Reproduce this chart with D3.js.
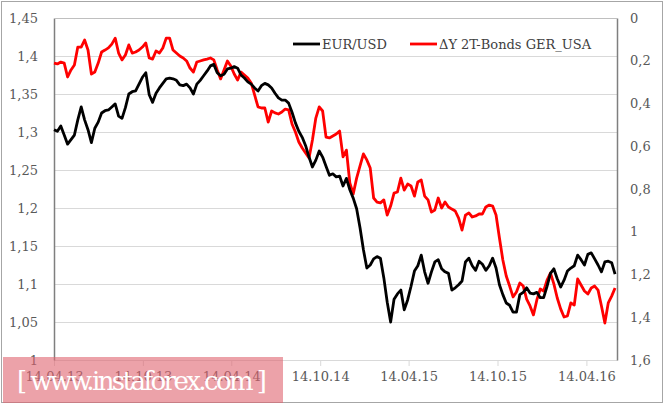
<!DOCTYPE html>
<html>
<head>
<meta charset="utf-8">
<title>EUR/USD vs 2Y bond spread</title>
<script src="https://cdn.jsdelivr.net/npm/d3@7"></script>
<style>
	body{ margin:0; background:#fff; }
	svg text{ font-family: "DejaVu Serif", serif; }
	.axis text{ fill:#595959; font-size:13px; }
	.grid line{ stroke:#d9d9d9; shape-rendering:crispEdges; }
</style>
</head>
<body>
<script>
// weekly observations, first week 14.04.13
const startDate = "2013-04-14";

const eurusd = [
	1.303,1.301,1.308,1.296,1.284,1.290,1.296,1.316,1.333,1.316,
	1.303,1.286,1.305,1.313,1.325,1.328,1.329,1.333,1.337,1.321,
	1.318,1.332,1.350,1.353,1.354,1.363,1.372,1.378,1.349,1.339,
	1.351,1.358,1.364,1.370,1.371,1.370,1.368,1.362,1.361,1.363,
	1.358,1.350,1.363,1.368,1.374,1.380,1.387,1.389,1.378,1.374,
	1.376,1.383,1.384,1.386,1.384,1.375,1.371,1.366,1.363,1.358,
	1.354,1.361,1.364,1.362,1.358,1.351,1.345,1.342,1.342,1.338,
	1.326,1.312,1.301,1.293,1.282,1.267,1.254,1.263,1.275,1.267,
	1.255,1.243,1.245,1.241,1.242,1.229,1.239,1.224,1.213,1.199,
	1.174,1.145,1.121,1.125,1.133,1.136,1.134,1.108,1.076,1.050,
	1.080,1.087,1.092,1.066,1.079,1.097,1.117,1.124,1.138,1.116,
	1.101,1.116,1.129,1.132,1.120,1.116,1.114,1.092,1.095,1.099,
	1.104,1.129,1.134,1.124,1.118,1.130,1.126,1.118,1.124,1.134,
	1.121,1.099,1.086,1.075,1.072,1.063,1.063,1.086,1.089,1.095,
	1.088,1.087,1.089,1.082,1.082,1.097,1.114,1.120,1.107,1.096,
	1.105,1.117,1.121,1.124,1.138,1.132,1.125,1.139,1.141,1.133,
	1.125,1.116,1.129,1.130,1.128,1.113
];

const spread = [
	0.211,0.215,0.206,0.211,0.276,0.243,0.220,0.136,0.136,0.103,
	0.150,0.262,0.253,0.211,0.159,0.150,0.140,0.122,0.094,0.164,
	0.196,0.173,0.126,0.164,0.159,0.150,0.136,0.117,0.187,0.192,
	0.154,0.164,0.140,0.094,0.094,0.150,0.164,0.178,0.187,0.201,
	0.234,0.253,0.206,0.201,0.196,0.192,0.187,0.196,0.243,0.285,
	0.243,0.201,0.225,0.262,0.290,0.253,0.267,0.281,0.304,0.360,
	0.416,0.421,0.421,0.487,0.435,0.444,0.449,0.440,0.426,0.430,
	0.496,0.533,0.580,0.608,0.632,0.655,0.571,0.468,0.416,0.435,
	0.557,0.561,0.552,0.543,0.529,0.650,0.618,0.772,0.823,0.749,
	0.692,0.636,0.664,0.702,0.842,0.861,0.865,0.851,0.922,0.880,
	0.819,0.814,0.749,0.805,0.777,0.786,0.833,0.767,0.758,0.833,
	0.851,0.908,0.898,0.842,0.889,0.861,0.884,0.894,0.903,0.936,
	0.992,0.922,0.912,0.931,0.926,0.917,0.917,0.884,0.875,0.880,
	0.922,1.029,1.132,1.207,1.254,1.305,1.282,1.240,1.254,1.315,
	1.347,1.389,1.319,1.268,1.277,1.226,1.193,1.244,1.310,1.361,
	1.399,1.394,1.333,1.343,1.221,1.249,1.277,1.291,1.263,1.254,
	1.273,1.347,1.427,1.333,1.301,1.263
];

const leftTicks = [1, 1.05, 1.1, 1.15, 1.2, 1.25, 1.3, 1.35, 1.4, 1.45];
const rightTicks = [0, 0.2, 0.4, 0.6, 0.8, 1, 1.2, 1.4, 1.6];
const dateTicks = ["2013-04-14","2013-10-14","2014-04-14","2014-10-14","2015-04-14","2015-10-14","2016-04-14"];
const axisEnd = "2016-06-16";

const width = 665, height = 406;
const margin = {top: 18, right: 48, bottom: 46, left: 54};

const parseDate = d3.timeParse("%Y-%m-%d");
const fmtDate = d3.timeFormat("%d.%m.%y");
const fmtNum = function(d){ return d3.format("~g")(d).replace(".", ","); };

const t0 = parseDate(startDate);
const dates = d3.range(eurusd.length).map(function(i){ return d3.timeDay.offset(t0, i * 7); });

const xScale = d3.scaleTime()
	.domain([t0, parseDate(axisEnd)])
	.range([margin.left, width - margin.right]);

const yLeft = d3.scaleLinear()
	.domain([1, 1.45])
	.range([height - margin.bottom, margin.top]);

const yRight = d3.scaleLinear()
	.domain([0, 1.6])
	.range([margin.top, height - margin.bottom]);

const svg = d3.select("body")
	.append("svg")
	.attr("width", width)
	.attr("height", height);

// outer frame
svg.append("rect")
	.attr("x", 1.5).attr("y", 1.5)
	.attr("width", width - 4).attr("height", height - 5)
	.attr("fill", "none")
	.attr("stroke", "#a6a6a6");

// gridlines
svg.append("g")
	.attr("class", "grid")
	.selectAll("line")
	.data(leftTicks)
	.enter()
	.append("line")
	.attr("x1", margin.left)
	.attr("x2", width - margin.right)
	.attr("y1", function(d){ return Math.round(yLeft(d)) + 0.5; })
	.attr("y2", function(d){ return Math.round(yLeft(d)) + 0.5; });

// axes
const xAxis = d3.axisBottom(xScale)
	.tickValues(dateTicks.map(parseDate))
	.tickFormat(fmtDate)
	.tickSizeInner(6)
	.tickSizeOuter(0)
	.tickPadding(6);

const gx = svg.append("g")
	.attr("class", "axis")
	.attr("transform", "translate(0," + (height - margin.bottom) + ")")
	.call(xAxis);
gx.select(".domain").attr("stroke", "#d9d9d9");
gx.selectAll(".tick line").attr("stroke", "#d9d9d9");

const gl = svg.append("g")
	.attr("class", "axis")
	.attr("transform", "translate(" + margin.left + ",0)")
	.call(d3.axisLeft(yLeft).tickValues(leftTicks).tickFormat(fmtNum).tickSize(0).tickPadding(16));
gl.select(".domain").attr("stroke", "#7f7f7f").attr("stroke-width", 1.5);

const gr = svg.append("g")
	.attr("class", "axis")
	.attr("transform", "translate(" + (width - margin.right) + ",0)")
	.call(d3.axisRight(yRight).tickValues(rightTicks).tickFormat(fmtNum).tickSize(0).tickPadding(13));
gr.select(".domain").attr("stroke", "#7f7f7f").attr("stroke-width", 1.5);

// top border of plot area
svg.append("line")
	.attr("x1", margin.left).attr("x2", width - margin.right)
	.attr("y1", margin.top + 0.5).attr("y2", margin.top + 0.5)
	.attr("stroke", "#bfbfbf");

// series
const eurLine = d3.line()
	.x(function(d, i){ return xScale(dates[i]); })
	.y(function(d){ return yLeft(d); });

const spreadLine = d3.line()
	.x(function(d, i){ return xScale(dates[i]); })
	.y(function(d){ return yRight(d); });

svg.append("path")
	.datum(spread)
	.attr("d", spreadLine)
	.attr("fill", "none")
	.attr("stroke", "#ff0000")
	.attr("stroke-width", 2.8)
	.attr("stroke-linejoin", "round");

svg.append("path")
	.datum(eurusd)
	.attr("d", eurLine)
	.attr("fill", "none")
	.attr("stroke", "#000")
	.attr("stroke-width", 2.8)
	.attr("stroke-linejoin", "round");

// legend
const legend = [
	{name: "EUR/USD", color: "#000", x: 293},
	{name: "\u0394Y 2T-Bonds GER_USA", color: "#ff0000", x: 410}
];
const lg = svg.selectAll(".legend")
	.data(legend)
	.enter()
	.append("g")
	.attr("class", "legend")
	.attr("transform", function(d){ return "translate(" + d.x + ",44)"; });
lg.append("line")
	.attr("x1", 0).attr("x2", 27)
	.attr("stroke", function(d){ return d.color; })
	.attr("stroke-width", 2.8);
lg.append("text")
	.attr("x", 29)
	.attr("dy", "0.35em")
	.attr("font-size", "13px")
	.attr("fill", "#404040")
	.text(function(d){ return d.name; });

// watermark
svg.append("rect")
	.attr("x", 3).attr("y", 357)
	.attr("width", 280).attr("height", 46)
	.attr("fill", "#e06470")
	.attr("fill-opacity", 0.6);
svg.append("text")
	.attr("x", 17).attr("y", 390)
	.attr("font-family", "'Open Sans', sans-serif")
	.attr("font-size", "26px")
	.attr("fill", "#fff")
	.attr("textLength", 250)
	.text("[ www.instaforex.com ]");
</script>
</body>
</html>
